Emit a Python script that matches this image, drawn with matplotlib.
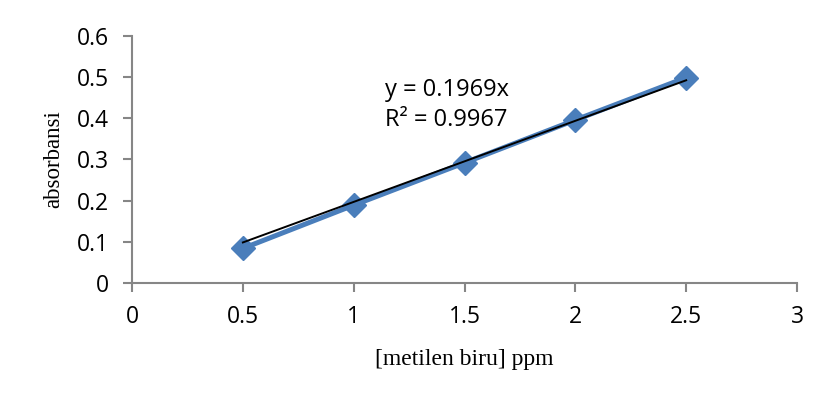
import numpy as np
import matplotlib
matplotlib.use("Agg")
import matplotlib.pyplot as plt

plt.rcParams["font.family"] = ["Open Sans", "DejaVu Sans"]

conc = [0.5, 1.0, 1.5, 2.0, 2.5]
absorb = [0.084, 0.189, 0.292, 0.396, 0.499]
xticks = [0, 0.5, 1, 1.5, 2, 2.5, 3]
yticks = [0, 0.1, 0.2, 0.3, 0.4, 0.5, 0.6]
eq_text = "y = 0.1969x"
r2_text = "R² = 0.9967"

x = np.array(conc)
y = np.array(absorb)
slope = (x * y).sum() / (x * x).sum()

fig = plt.figure(figsize=(8.31, 4.03), dpi=100)
ax = fig.add_axes([0.1589, 0.2978, 0.8002, 0.6129])

ax.plot(conc, absorb, color="#4A7EBB", lw=3.6, marker="D", markersize=12,
        markerfacecolor="#4A7EBB", markeredgecolor="#4A7EBB", zorder=2)
ax.plot([conc[0], conc[-1]], [slope * conc[0], slope * conc[-1]], color="black", lw=1.4, zorder=3)

ax.set_xlim(0, 3)
ax.set_ylim(0, 0.6)
ax.set_xticks(xticks)
ax.set_yticks(yticks)
ax.set_xticklabels([f"{t:g}" for t in xticks])
ax.set_yticklabels([f"{t:g}" for t in yticks])

for s in ["top", "right"]:
    ax.spines[s].set_visible(False)
for s in ["left", "bottom"]:
    ax.spines[s].set_color("#868686")
    ax.spines[s].set_linewidth(1.5)
ax.tick_params(axis="both", direction="out", length=6.5, width=1.5, color="#868686",
               labelsize=16.5, labelcolor="black")
ax.tick_params(axis="x", pad=9)
ax.tick_params(axis="y", pad=10)

ax.set_xlabel("[metilen biru] ppm", family="Liberation Serif", fontsize=17, labelpad=15)
ax.set_ylabel("absorbansi", family="Liberation Serif", fontsize=16.5, labelpad=9)

ax.text(1.14, 0.469, eq_text, fontsize=17, va="center", ha="left")
ax.text(1.14, 0.397, r2_text, fontsize=17, va="center", ha="left")

fig.savefig("out.png", dpi=100)
